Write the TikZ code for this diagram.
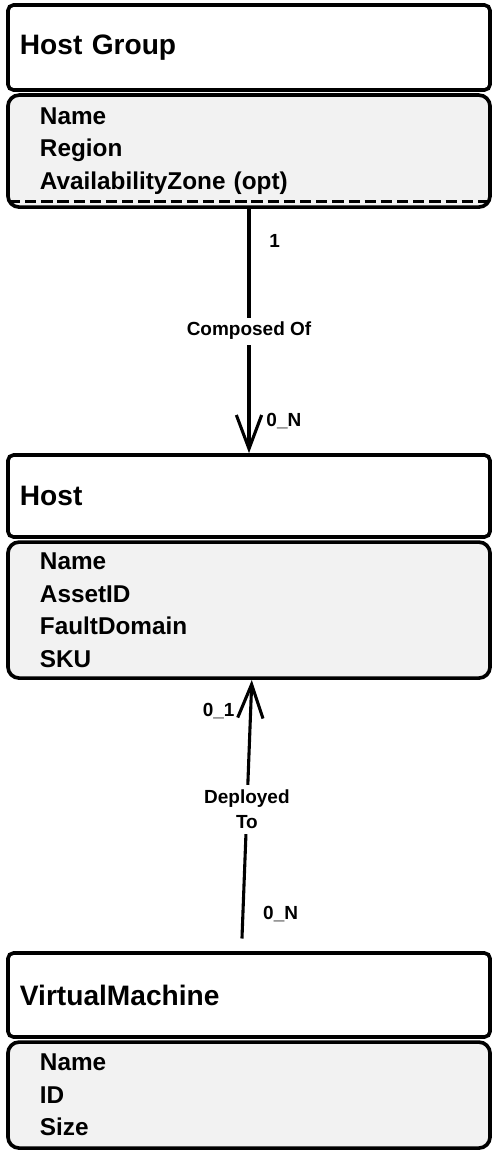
\documentclass[tikz,border=0pt]{standalone}
\usepackage{fontspec}
\setmainfont{Liberation Sans}
\usetikzlibrary{positioning,arrows.meta}
\definecolor{attrgray}{HTML}{F2F2F2}
\tikzset{
  head/.style={draw,line width=2.6pt,rounded corners=4pt,fill=white,text width=11.45cm,inner xsep=0.3cm,align=left,font=\fontsize{20}{24}\selectfont\bfseries},
  attrs/.style={draw,line width=2.6pt,rounded corners=8pt,fill=attrgray,text width=10.45cm,inner xsep=0.8cm,align=left,font=\fontsize{17.3}{23.1}\selectfont\bfseries},
  link/.style={line width=2.2pt,-{Straight Barb[length=24pt,width=18pt]}},
  lbl/.style={font=\fontsize{13.5}{18}\selectfont\bfseries}
}
\begin{document}
\begin{tikzpicture}[x=0.025cm,y=-0.025cm]
  \useasboundingbox (0,0) rectangle (497,1152);
  \node[head,minimum height=2.125cm] (hg) at (249,47.5) {Host Group};
  \node[attrs,minimum height=2.8cm,below=1pt of hg] (hga) {Name\\Region\\AvailabilityZone (opt)};
  \draw[line width=2pt,dash pattern=on 8pt off 3.5pt] ([xshift=2pt,yshift=5pt]hga.south west) -- ([xshift=-2pt,yshift=5pt]hga.south east);
  \node[head,minimum height=2.05cm] (host) at (249,496) {Host};
  \node[attrs,minimum height=3.4cm,below=1pt of host] (hosta) {Name\\AssetID\\FaultDomain\\SKU};
  \node[head,minimum height=2.1cm] (vm) at (249,995) {VirtualMachine};
  \node[attrs,minimum height=2.65cm,below=1pt of vm] (vma) {Name\\ID\\Size};
  \draw[link] (hga.south) -- node[lbl,fill=white] {Composed Of}
    node[lbl,pos=0.13,right=10pt] {1} node[lbl,pos=0.87,right=8pt] {0\_N} (host.north);
  \draw[link] ([xshift=-5pt,yshift=9pt]vm.north) -- node[lbl,fill=white,align=center] {Deployed\\To}
    node[lbl,pos=0.095,right=10pt] {0\_N} node[lbl,pos=0.88,left=7pt] {0\_1} ([xshift=2pt]hosta.south);
\end{tikzpicture}
\end{document}
